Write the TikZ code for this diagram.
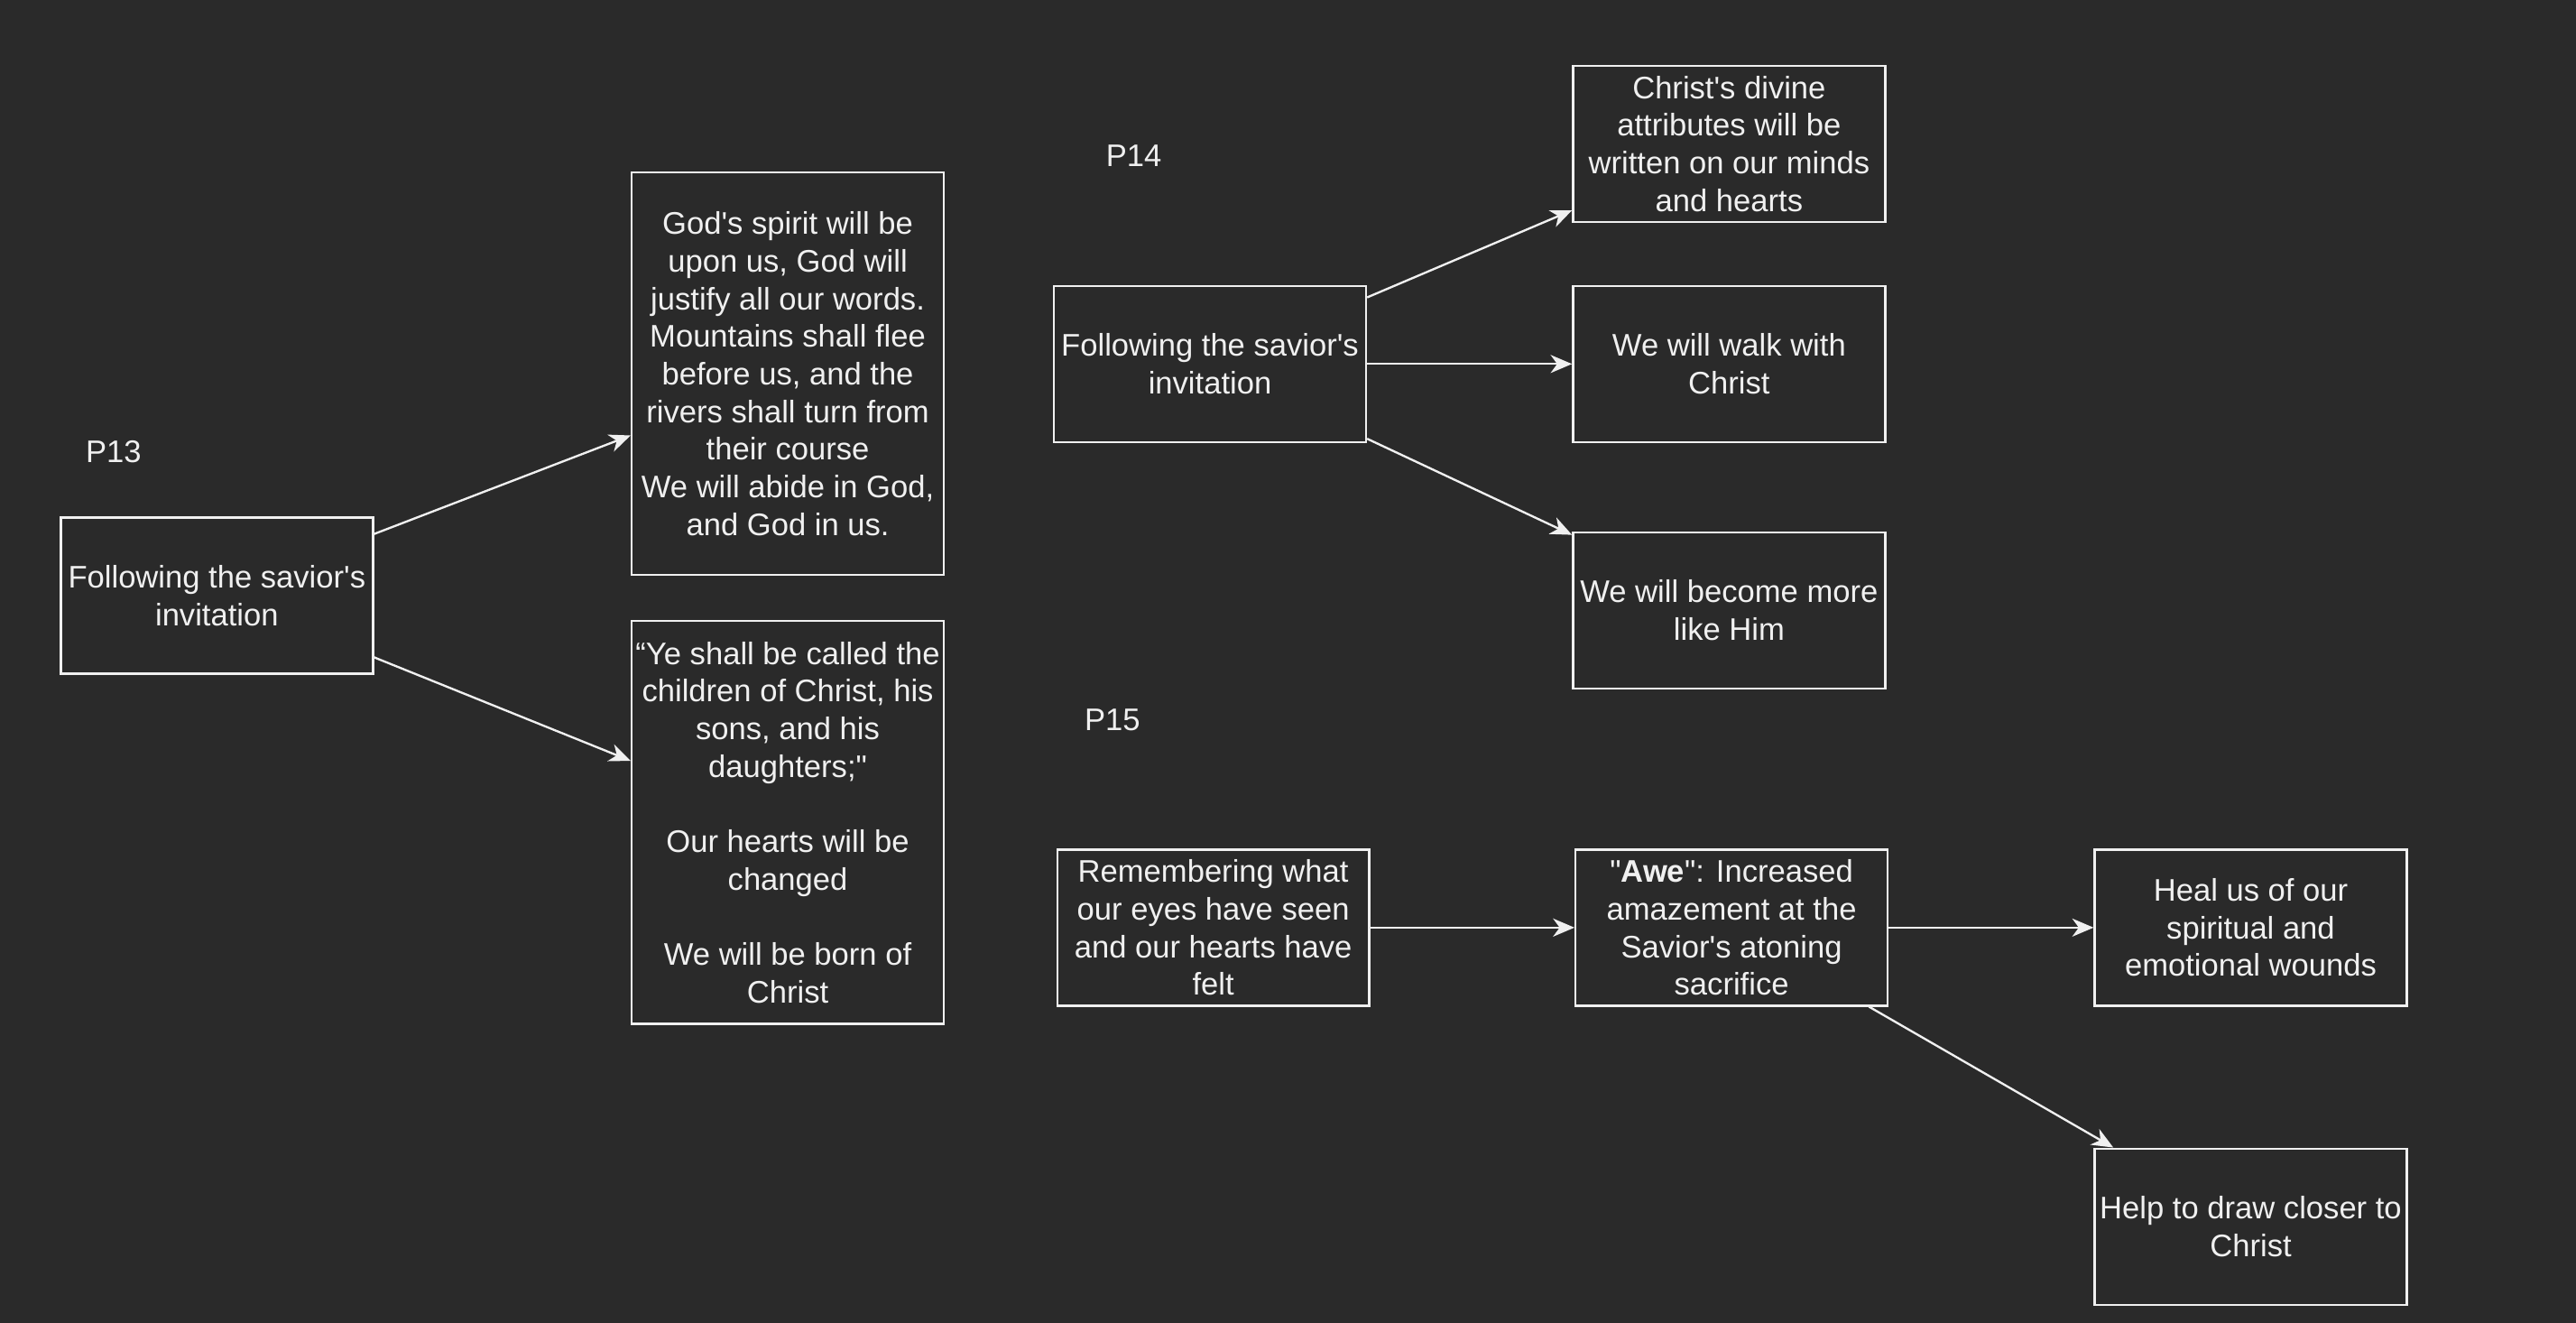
\documentclass[tikz,border=0pt]{standalone}
\usepackage{fontspec}
\setmainfont{Liberation Sans}[Ligatures=TeXOff]
\usetikzlibrary{arrows.meta}
\definecolor{bgc}{HTML}{2A2A2A}
\definecolor{fg}{HTML}{F0F0F0}
\begin{document}
\begin{tikzpicture}[x=1pt,y=-1pt,
  box/.style={draw=fg, line width=1.3pt, text=fg, align=center, inner sep=0pt,
    minimum width=190pt, minimum height=95pt,
    font=\fontsize{19pt}{22.9pt}\selectfont},
  lbl/.style={text=fg, anchor=west, inner sep=0pt, font=\fontsize{19pt}{22.9pt}\selectfont},
  conn/.style={draw=fg, line width=1.3pt, -{Stealth[length=13pt,width=11pt,inset=4pt]}}]
\useasboundingbox (0,0) rectangle (1568,804.6);
\fill[bgc] (-6,-6) rectangle (1574,811);

% P13
\node[lbl] (p13) at (52,275) {P13};
\node[box] (A1) at (132,362.5) {Following the savior's\\invitation};
\node[box, minimum height=245pt] (B1) at (479.5,227.5) {God's spirit will be\\upon us, God will\\justify all our words.\\Mountains shall flee\\before us, and the\\rivers shall turn from\\their course\\We will abide in God,\\and God in us.};
\node[box, minimum height=245pt] (B2) at (479.5,500.5) {“Ye shall be called the\\children of Christ, his\\sons, and his\\daughters;"\\[22.9pt]Our hearts will be\\changed\\[22.9pt]We will be born of\\Christ};
\draw[conn] ([yshift=37.5pt]A1.east) -- ([yshift=-37.5pt]B1.west);
\draw[conn] ([yshift=-37.5pt]A1.east) -- ([yshift=37.5pt]B2.west);

% P14
\node[lbl] (p14) at (673,95) {P14};
\node[box] (A2) at (736.5,221.5) {Following the savior's\\invitation};
\node[box] (C1) at (1052.5,87.5) {Christ's divine\\attributes will be\\written on our minds\\and hearts};
\node[box] (C2) at (1052.5,221.5) {We will walk with\\Christ};
\node[box] (C3) at (1052.5,371.5) {We will become more\\like Him};
\draw[conn] ([yshift=40.5pt]A2.east) -- ([yshift=-40.5pt]C1.west);
\draw[conn] (A2.east) -- (C2.west);
\draw[conn] ([yshift=-45.5pt]A2.east) -- ([yshift=46pt]C3.west);

% P15
\node[lbl] (p15) at (660,438) {P15};
\node[box] (D1) at (738.5,564.5) {Remembering what\\our eyes have seen\\and our hearts have\\felt};
\node[box] (D2) at (1054,564.5) {"\textbf{Awe}": Increased\\amazement at the\\Savior's atoning\\sacrifice};
\node[box] (D3) at (1370,564.5) {Heal us of our\\spiritual and\\emotional wounds};
\node[box] (D4) at (1370,746.5) {Help to draw closer to\\Christ};
\draw[conn] (D1.east) -- (D2.west);
\draw[conn] (D2.east) -- (D3.west);
\draw[conn] ([xshift=-12pt]D2.south east) -- ([xshift=12pt]D4.north west);
\end{tikzpicture}
\end{document}
